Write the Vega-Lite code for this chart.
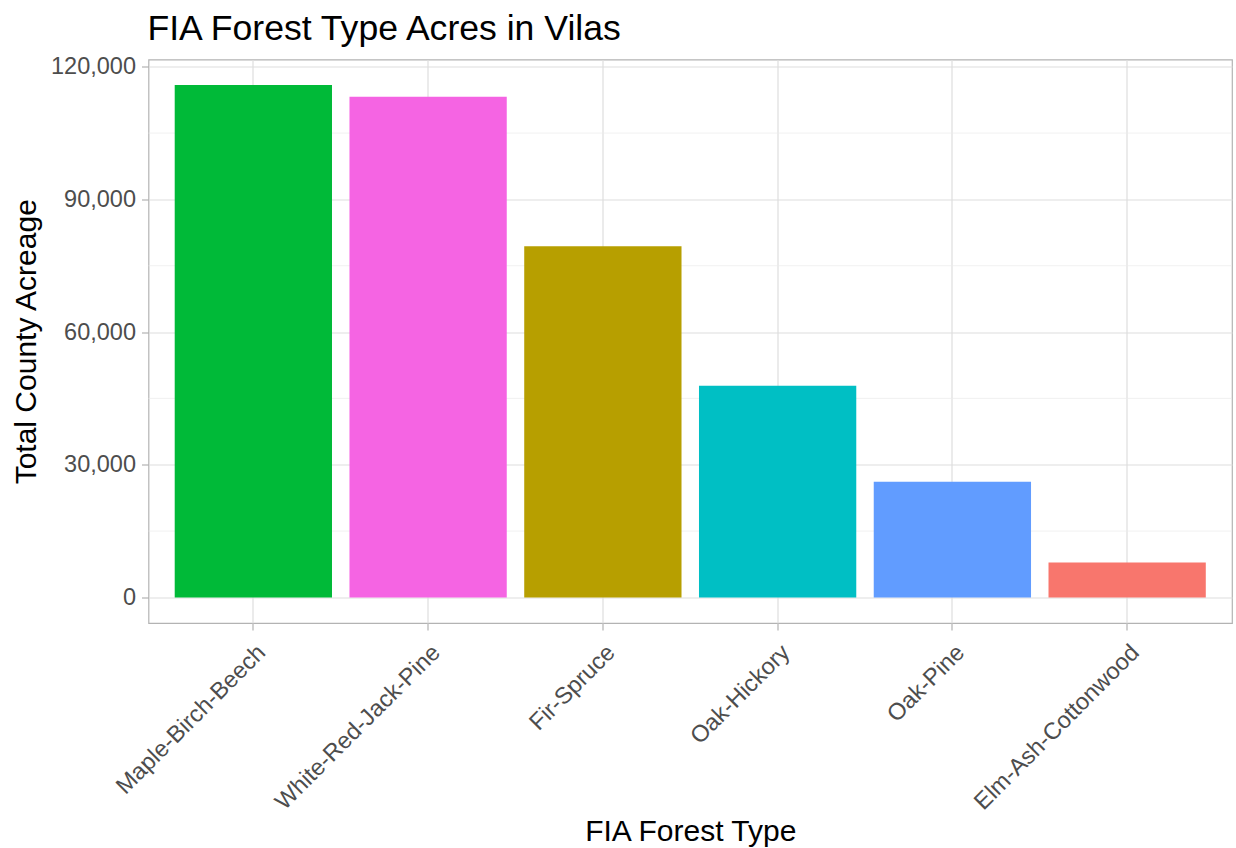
{
  "$schema": "https://vega.github.io/schema/vega-lite/v6.json",
  "autosize": {"type": "none"},
  "padding": {"left": 148.5, "top": 59.5, "right": 4, "bottom": 225},
  "width": 1083.5,
  "height": 563.5,
  "background": "white",
  "title": {
    "text": "FIA Forest Type Acres in Vilas",
    "anchor": "start",
    "frame": "group",
    "font": "Liberation Sans",
    "fontSize": 35.6,
    "fontWeight": "normal",
    "color": "#000000",
    "baseline": "bottom",
    "offset": 13,
    "dy": 41,
    "dx": -1
  },
  "config": {
    "view": {"stroke": "#B3B3B3", "strokeWidth": 1.2},
    "axis": {
      "labelFont": "Liberation Sans",
      "titleFont": "Liberation Sans",
      "labelColor": "#4D4D4D",
      "titleColor": "#000000",
      "titleFontWeight": "normal",
      "gridColor": "#DEDEDE",
      "gridWidth": 1.2,
      "tickColor": "#B3B3B3",
      "tickWidth": 1.2,
      "domain": false,
      "labelLimit": 0
    }
  },
  "layer": [
    {
      "data": {"values": [{"v": 15000}, {"v": 45000}, {"v": 75000}, {"v": 105000}]},
      "mark": {"type": "rule", "color": "#EBEBEB", "strokeWidth": 0.7},
      "encoding": {
        "y": {"field": "v", "type": "quantitative"}
      }
    },
    {
      "data": {
        "values": [
          {"forest_type": "Maple-Birch-Beech", "acres": 115850},
          {"forest_type": "White-Red-Jack-Pine", "acres": 113215},
          {"forest_type": "Fir-Spruce", "acres": 79400},
          {"forest_type": "Oak-Hickory", "acres": 47850},
          {"forest_type": "Oak-Pine", "acres": 26150},
          {"forest_type": "Elm-Ash-Cottonwood", "acres": 7890}
        ]
      },
      "mark": {"type": "bar"},
      "encoding": {
        "x": {
          "field": "forest_type",
          "type": "nominal",
          "sort": ["Maple-Birch-Beech", "White-Red-Jack-Pine", "Fir-Spruce", "Oak-Hickory", "Oak-Pine", "Elm-Ash-Cottonwood"],
          "scale": {"paddingInner": 0.1, "paddingOuter": 0.15},
          "axis": {
            "title": "FIA Forest Type",
            "titleFontSize": 30,
            "titleBaseline": "alphabetic",
            "titleY": 217,
            "labelFontSize": 23.5,
            "labelAngle": -45,
            "labelAlign": "right",
            "labelBaseline": "top",
            "labelPadding": 10,
            "labelDx": 7,
            "labelLimit": 0,
            "tickSize": 7,
            "grid": true
          }
        },
        "y": {
          "field": "acres",
          "type": "quantitative",
          "scale": {"domain": [-5793, 121643], "nice": false, "zero": false},
          "axis": {
            "title": "Total County Acreage",
            "titleFontSize": 30,
            "titleBaseline": "alphabetic",
            "titleX": -113.5,
            "labelFontSize": 23.5,
            "labelPadding": 6,
            "tickSize": 7,
            "values": [0, 30000, 60000, 90000, 120000],
            "format": ",d",
            "grid": true
          }
        },
        "y2": {"datum": 0},
        "color": {
          "field": "forest_type",
          "type": "nominal",
          "scale": {
            "domain": ["Elm-Ash-Cottonwood", "Fir-Spruce", "Maple-Birch-Beech", "Oak-Hickory", "Oak-Pine", "White-Red-Jack-Pine"],
            "range": ["#F8766D", "#B79F00", "#00BA38", "#00BFC4", "#619CFF", "#F564E3"]
          },
          "legend": null
        }
      }
    }
  ]
}
